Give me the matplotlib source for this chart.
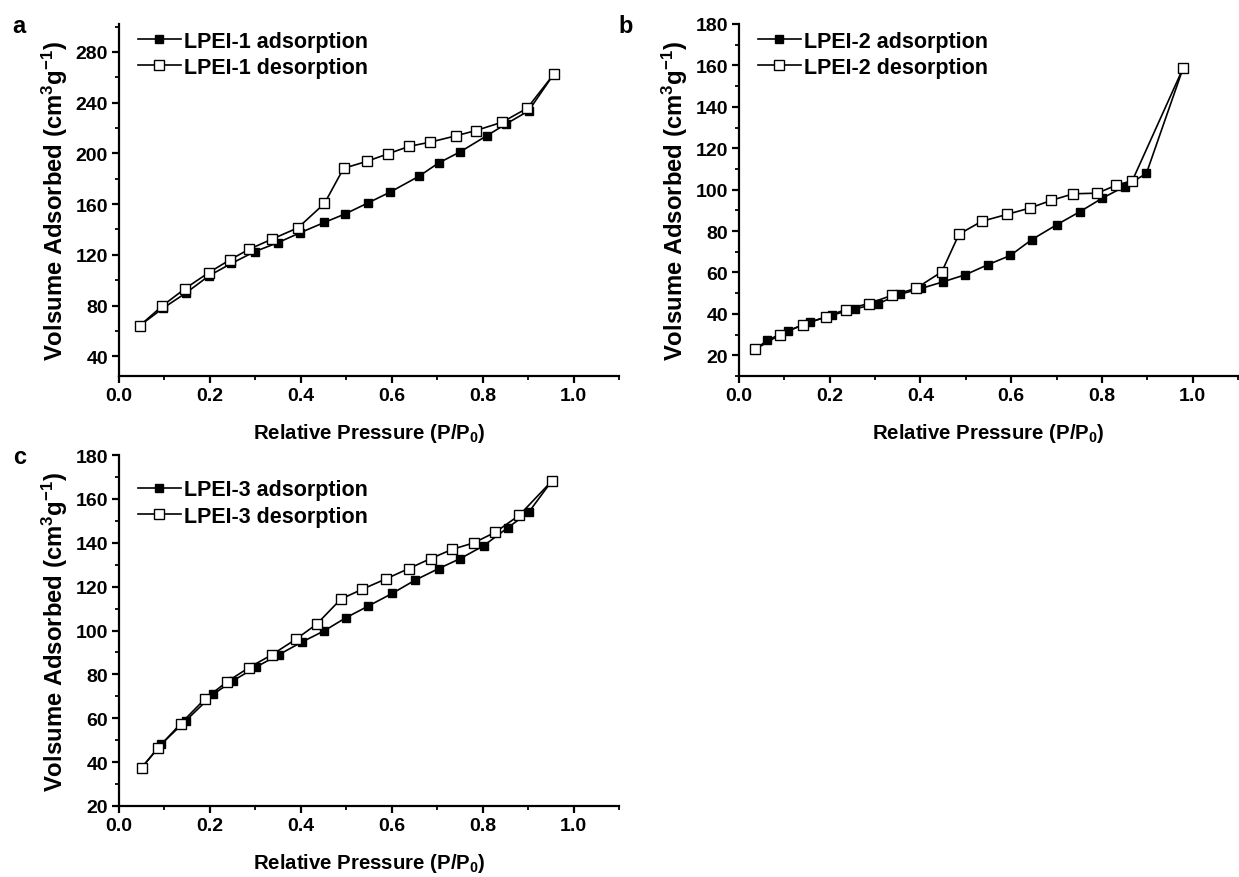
import matplotlib
matplotlib.use("Agg")
import matplotlib.pyplot as plt
from matplotlib.ticker import MultipleLocator

plt.rcParams['font.family'] = ['Liberation Sans', 'DejaVu Sans']
plt.rcParams['font.weight'] = 'bold'
plt.rcParams['mathtext.fontset'] = 'custom'
plt.rcParams['mathtext.rm'] = 'Liberation Sans:bold'
plt.rcParams['mathtext.bf'] = 'Liberation Sans:bold'
plt.rcParams['mathtext.it'] = 'Liberation Sans:bold'

# ---------------- data ----------------
# Panel a: LPEI-1
a_ads_x = [0.046, 0.097, 0.147, 0.198, 0.247, 0.299, 0.350, 0.399, 0.452, 0.497,
           0.547, 0.596, 0.660, 0.703, 0.751, 0.809, 0.852, 0.901, 0.956]
a_ads_y = [64.3, 78.0, 89.9, 103.5, 113.2, 122.6, 129.7, 137.5, 145.6, 152.2,
           160.8, 169.4, 182.0, 192.4, 201.3, 213.9, 223.3, 233.5, 262.2]
a_des_x = [0.956, 0.898, 0.843, 0.785, 0.742, 0.685, 0.638, 0.592, 0.545, 0.494,
           0.452, 0.394, 0.336, 0.286, 0.245, 0.197, 0.145, 0.095, 0.046]
a_des_y = [262.2, 235.6, 224.6, 218.0, 213.9, 208.9, 205.5, 199.7, 193.7, 188.2,
           160.5, 141.4, 132.3, 124.4, 116.3, 105.9, 93.3, 79.7, 64.3]

# Panel b: LPEI-2
b_ads_x = [0.036, 0.0625, 0.108, 0.156, 0.205, 0.255, 0.307, 0.354, 0.402, 0.450, 0.499,
           0.548, 0.598, 0.645, 0.700, 0.751, 0.801, 0.850, 0.898, 0.979]
b_ads_y = [22.9, 27.3, 31.8, 36.0, 39.4, 42.4, 45.0, 49.4, 52.3, 55.5, 58.9,
           63.7, 68.2, 75.8, 83.0, 89.3, 95.9, 101.5, 107.8, 158.7]
b_des_x = [0.979, 0.867, 0.832, 0.790, 0.737, 0.688, 0.641, 0.590, 0.535, 0.485,
           0.447, 0.390, 0.338, 0.286, 0.235, 0.191, 0.141, 0.091, 0.036]
b_des_y = [158.7, 104.3, 102.2, 98.3, 98.0, 94.8, 91.1, 88.0, 84.7, 78.5,
           60.3, 52.3, 49.0, 45.0, 42.1, 38.5, 34.8, 30.0, 22.9]

# Panel c: LPEI-3
c_ads_x = [0.050, 0.093, 0.147, 0.207, 0.250, 0.302, 0.351, 0.402, 0.451, 0.499,
           0.548, 0.601, 0.651, 0.703, 0.751, 0.802, 0.855, 0.901, 0.952]
c_ads_y = [37.5, 48.2, 58.9, 70.9, 77.0, 83.4, 88.9, 94.7, 99.8, 105.8,
           111.1, 116.9, 122.9, 128.2, 132.8, 138.6, 146.8, 153.8, 168.1]
c_des_x = [0.952, 0.881, 0.828, 0.780, 0.733, 0.686, 0.637, 0.587, 0.534, 0.488,
           0.435, 0.389, 0.336, 0.286, 0.238, 0.189, 0.136, 0.086, 0.050]
c_des_y = [168.1, 152.6, 144.8, 139.9, 137.0, 132.8, 128.2, 123.5, 118.7, 114.3,
           102.9, 96.0, 88.9, 83.1, 76.7, 68.8, 57.6, 46.5, 37.5]

panel_labels = ['a', 'b', 'c']
sample_names = ['LPEI-1', 'LPEI-2', 'LPEI-3']
x_ticks = [0.0, 0.2, 0.4, 0.6, 0.8, 1.0]
a_yticks = [40, 80, 120, 160, 200, 240, 280]
b_yticks = [20, 40, 60, 80, 100, 120, 140, 160, 180]
c_yticks = [20, 40, 60, 80, 100, 120, 140, 160, 180]

xlabel = r'Relative Pressure (P/P$_{\mathbf{0}}$)'
ylabel = r'Volsume Adsorbed (cm$^{\mathbf{3}}$g$^{\mathbf{-1}}$)'

# ---------------- figure ----------------
W, H = 1239, 878
fig = plt.figure(figsize=(W / 100, H / 100), dpi=100)


def px_axes(left, top, right, bottom):
    return fig.add_axes([left / W, 1 - bottom / H, (right - left) / W, (bottom - top) / H])


ax_a = px_axes(119, 25, 619, 377)
ax_b = px_axes(739, 25, 1238, 377)
ax_c = px_axes(119, 456, 619, 807)

panels = [
    (ax_a, a_ads_x, a_ads_y, a_des_x, a_des_y, (24.5, 302), a_yticks, 20, 1.018),
    (ax_b, b_ads_x, b_ads_y, b_des_x, b_des_y, (10, 180), b_yticks, 10, 1.018),
    (ax_c, c_ads_x, c_ads_y, c_des_x, c_des_y, (20, 180), c_yticks, 10, 0.968),
]

for i, (ax, ax_x, ax_y, dx, dy, ylim, yt, ymin, leg_y) in enumerate(panels):
    ax.plot(ax_x, ax_y, color='black', lw=1.2, marker='s', ms=6,
            mfc='black', mec='black', label=f'{sample_names[i]} adsorption', zorder=3)
    ax.plot(dx, dy, color='black', lw=1.2, marker='s', ms=6.5,
            mfc='white', mec='black', mew=1.0, label=f'{sample_names[i]} desorption', zorder=4)
    ax.set_xlim(0, 1.1)
    ax.set_ylim(*ylim)
    ax.set_xticks(x_ticks)
    ax.xaxis.set_minor_locator(MultipleLocator(0.1))
    ax.set_yticks(yt)
    ax.yaxis.set_minor_locator(MultipleLocator(ymin))
    for s in ['top', 'right']:
        ax.spines[s].set_visible(False)
    for s in ['left', 'bottom']:
        ax.spines[s].set_linewidth(1.6)
    ax.tick_params(which='major', direction='out', length=5, width=1.6, labelsize=14, pad=3)
    ax.tick_params(which='minor', direction='out', length=3, width=1.3)
    for lab in ax.get_xticklabels() + ax.get_yticklabels():
        lab.set_fontweight('bold')
    ax.set_xlabel(xlabel, fontsize=14.7, fontweight='bold', labelpad=12)
    ax.set_ylabel(ylabel, fontsize=17.2, fontweight='bold', labelpad=4)
    leg = ax.legend(loc='upper left', frameon=False, fontsize=15.5,
                    handlelength=2.0, handletextpad=0.15, labelspacing=0.25,
                    borderaxespad=0.2, bbox_to_anchor=(0.012, leg_y))
    for t in leg.get_texts():
        t.set_fontweight('bold')

fig.text(12 / W, 1 - 33 / H, 'a', fontsize=17, fontweight='bold')
fig.text(618 / W, 1 - 33 / H, 'b', fontsize=17, fontweight='bold')
fig.text(13 / W, 1 - 464 / H, 'c', fontsize=17, fontweight='bold')

fig.savefig('out.png', dpi=100)
